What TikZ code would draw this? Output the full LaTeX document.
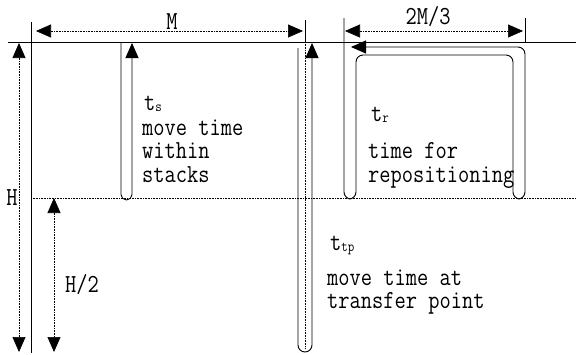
\documentclass[tikz,border=0pt]{standalone}
\usepackage{fontspec}
\newfontfamily\lblfont[FakeStretch=0.84]{Latin Modern Mono}
\usetikzlibrary{arrows.meta}
\newcommand\subtx[1]{\raisebox{-1pt}{\fontsize{15}{15}\selectfont #1}}
\begin{document}
\begin{tikzpicture}[x=1pt,y=-1pt,
  >={Triangle[width=13pt,length=15pt]},
  wall/.style={line width=0.9pt},
  dim/.style={line width=0.7pt, dash pattern=on 0.8pt off 0.8pt},
  lbl/.style={font={\lblfont\fontsize{26}{28}\selectfont}, inner sep=0pt, anchor=base west, text height=16pt, text depth=5pt},
  dimlbl/.style={font={\lblfont\fontsize{26}{28}\selectfont}, inner sep=0pt, anchor=base},
]
\useasboundingbox (0,0) rectangle (576,354);
% base lines
\draw[wall] (8,42) -- (576,42);
\draw[wall] (31,22) -- (31,353);
\draw[dim] (31,198) -- (576,198);
% dimension H
\draw[dim,<->] (19,43) -- (19,352);
\node[dimlbl] (H) at (12,205) {H};
% dimension H/2
\draw[dim,<->] (54,198) -- (54,352);
\node[dimlbl] (H2) at (82,292) {H/2};
% dimension M
\draw[dim,<->] (36,31) -- (303,31);
\node[dimlbl] (M) at (172,29.5) {M};
\draw[wall] (305,20) -- (305,42);
\draw[dim] (305,42) -- (305,348);
% dimension 2M/3
\draw[dim,<->] (345,31) -- (523,31);
\node[dimlbl] (M23) at (428,24) {2M/3};
\draw[wall] (525,18) -- (525,42);
% t_s tube
\draw[wall,->,rounded corners=5.5pt] (121,42) -- (121,200) -- (132,200) -- (132,43);
% t_tp tube
\draw[wall,->,rounded corners=7pt] (298,48) -- (298,352) -- (312,352) -- (312,43);
% t_r tube
\draw[wall,<-,rounded corners=7pt] (351,47) -- (525,47) -- (525,199) -- (513,199)
  -- (513,55) -- (356,55) -- (356,199) -- (344,199) -- (344,18);
% texts
\node[lbl] (ts) at (144,110) {t\subtx{s}};
\node[lbl] (ts1) at (142,135) {move time};
\node[lbl] (ts2) at (142,158) {within};
\node[lbl] (ts3) at (142,182) {stacks};
\node[lbl] (tr) at (371,121) {t\subtx{r}};
\node[lbl] (tr1) at (368,158) {time for};
\node[lbl] (tr2) at (368,182) {repositioning};
\node[lbl] (ttp) at (330,250) {t\subtx{tp}};
\node[lbl] (ttp1) at (327,285) {move time at};
\node[lbl] (ttp2) at (327,308) {transfer point};
\end{tikzpicture}
\end{document}
